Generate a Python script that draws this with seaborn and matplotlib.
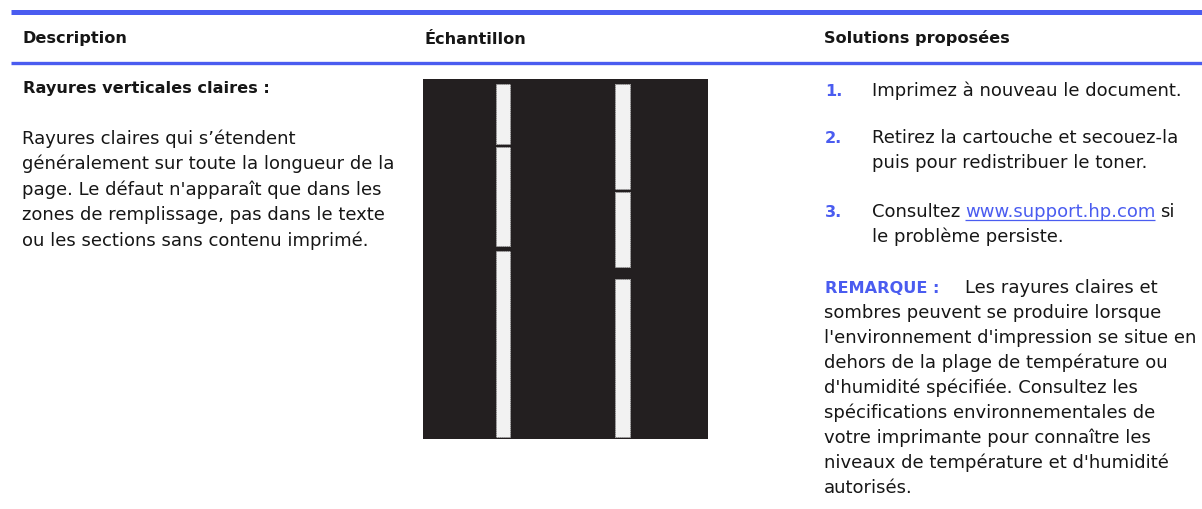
import matplotlib
matplotlib.use("Agg")
import matplotlib.pyplot as plt
import seaborn as sns

# ---------------- data ----------------
columns = ["Description", "Échantillon", "Solutions proposées"]
defect_title = "Rayures verticales claires :"
description_lines = [
    "Rayures claires qui s’étendent",
    "généralement sur toute la longueur de la",
    "page. Le défaut n'apparaît que dans les",
    "zones de remplissage, pas dans le texte",
    "ou les sections sans contenu imprimé.",
]
step_numbers = ["1.", "2.", "3."]
step_lines = [
    ["Imprimez à nouveau le document."],
    ["Retirez la cartouche et secouez-la", "puis pour redistribuer le toner."],
    ["Consultez", "le problème persiste."],
]
link_text = "www.support.hp.com"
link_tail = "si"
note_label = "REMARQUE :"
note_lines = [
    "Les rayures claires et",
    "sombres peuvent se produire lorsque",
    "l'environnement d'impression se situe en",
    "dehors de la plage de température ou",
    "d'humidité spécifiée. Consultez les",
    "spécifications environnementales de",
    "votre imprimante pour connaître les",
    "niveaux de température et d'humidité",
    "autorisés.",
]
# sample image: light stripes (position across page, segments top->bottom as page fraction)
stripe_pos = [0.28, 0.70]
stripe_starts = [[0.014, 0.190, 0.477], [0.014, 0.315, 0.556]]
stripe_ends = [[0.181, 0.463, 0.995], [0.306, 0.523, 0.995]]

# ---------------- style ----------------
sns.set_theme(style="white")
plt.rcParams["font.family"] = ["DejaVu Sans"]
BLUE = "#4a5cf0"
INK = "#161616"
FS = 12.95     # body text
FSB = 11.6     # bold headings

W, H = 1202, 510
fig = plt.figure(figsize=(W / 100, H / 100), dpi=100)
ax = fig.add_axes([0, 0, 1, 1])
ax.set_xlim(0, W)
ax.set_ylim(H, 0)
ax.axis("off")

# header rules
ax.hlines(12.5, 11, W, color=BLUE, lw=3.6)
ax.hlines(63.5, 11, W, color=BLUE, lw=2.4)

col_x = [23, 424, 824]
for x, c in zip(col_x, columns):
    ax.text(x, 43.5, c, fontsize=FSB, fontweight="bold", color=INK, va="baseline")

# description column
ax.text(23, 93.5, defect_title, fontsize=FSB, fontweight="bold", color=INK, va="baseline")
for i, line in enumerate(description_lines):
    ax.text(22, 144 + i * 25.5, line, fontsize=FS, color=INK, va="baseline")

# solutions column
step_base = [95.5, 143.5, 217.5]
texts = {}
for n, (num, lines, y0) in enumerate(zip(step_numbers, step_lines, step_base)):
    ax.text(825, y0, num, fontsize=FSB, fontweight="bold", color=BLUE, va="baseline")
    for j, line in enumerate(lines):
        t = ax.text(872, y0 + j * 25, line, fontsize=FS, color=INK, va="baseline")
        texts[(n, j)] = t

consult = texts[(2, 0)]
link = ax.annotate(link_text, xy=(1, 0), xycoords=consult, xytext=(3.4, 0),
                   textcoords="offset points", fontsize=FS, color=BLUE,
                   ha="left", va="bottom")
tail = ax.annotate(link_tail, xy=(1, 0), xycoords=link, xytext=(3.4, 0),
                   textcoords="offset points", fontsize=FS, color=INK,
                   ha="left", va="bottom")

ax.text(825, 293.5, note_label, fontsize=FSB, fontweight="bold", color=BLUE, va="baseline")
ax.text(965, 293.5, note_lines[0], fontsize=FS, color=INK, va="baseline")
for i, line in enumerate(note_lines[1:]):
    ax.text(824, 318.5 + i * 24.9, line, fontsize=FS, color=INK, va="baseline")

# underline for the link
fig.canvas.draw()
bb = link.get_window_extent()
inv = ax.transData.inverted()
(x0, _), (x1, _) = inv.transform([(bb.x0, bb.y0), (bb.x1, bb.y0)])
ax.hlines(217.5 + 3, x0, x1, color=BLUE, lw=0.9)

# sample image
img_l, img_t, img_w, img_h = 423, 80, 285, 360
iax = fig.add_axes([img_l / W, 1 - (img_t + img_h) / H, img_w / W, img_h / H])
iax.set_facecolor("#231f20")
iax.set_xlim(0, 1)
iax.set_ylim(1, 0)
iax.set_xticks([])
iax.set_yticks([])
for s in iax.spines.values():
    s.set_visible(False)
for xp, starts, ends in zip(stripe_pos, stripe_starts, stripe_ends):
    heights = [e - s for s, e in zip(starts, ends)]
    iax.bar([xp] * len(starts), heights, bottom=starts, width=0.05,
            color="#f2f2f2", edgecolor="#bdbdbd", linewidth=0.6,
            linestyle=(0, (1, 1.5)))

fig.savefig("out.png", dpi=100)
